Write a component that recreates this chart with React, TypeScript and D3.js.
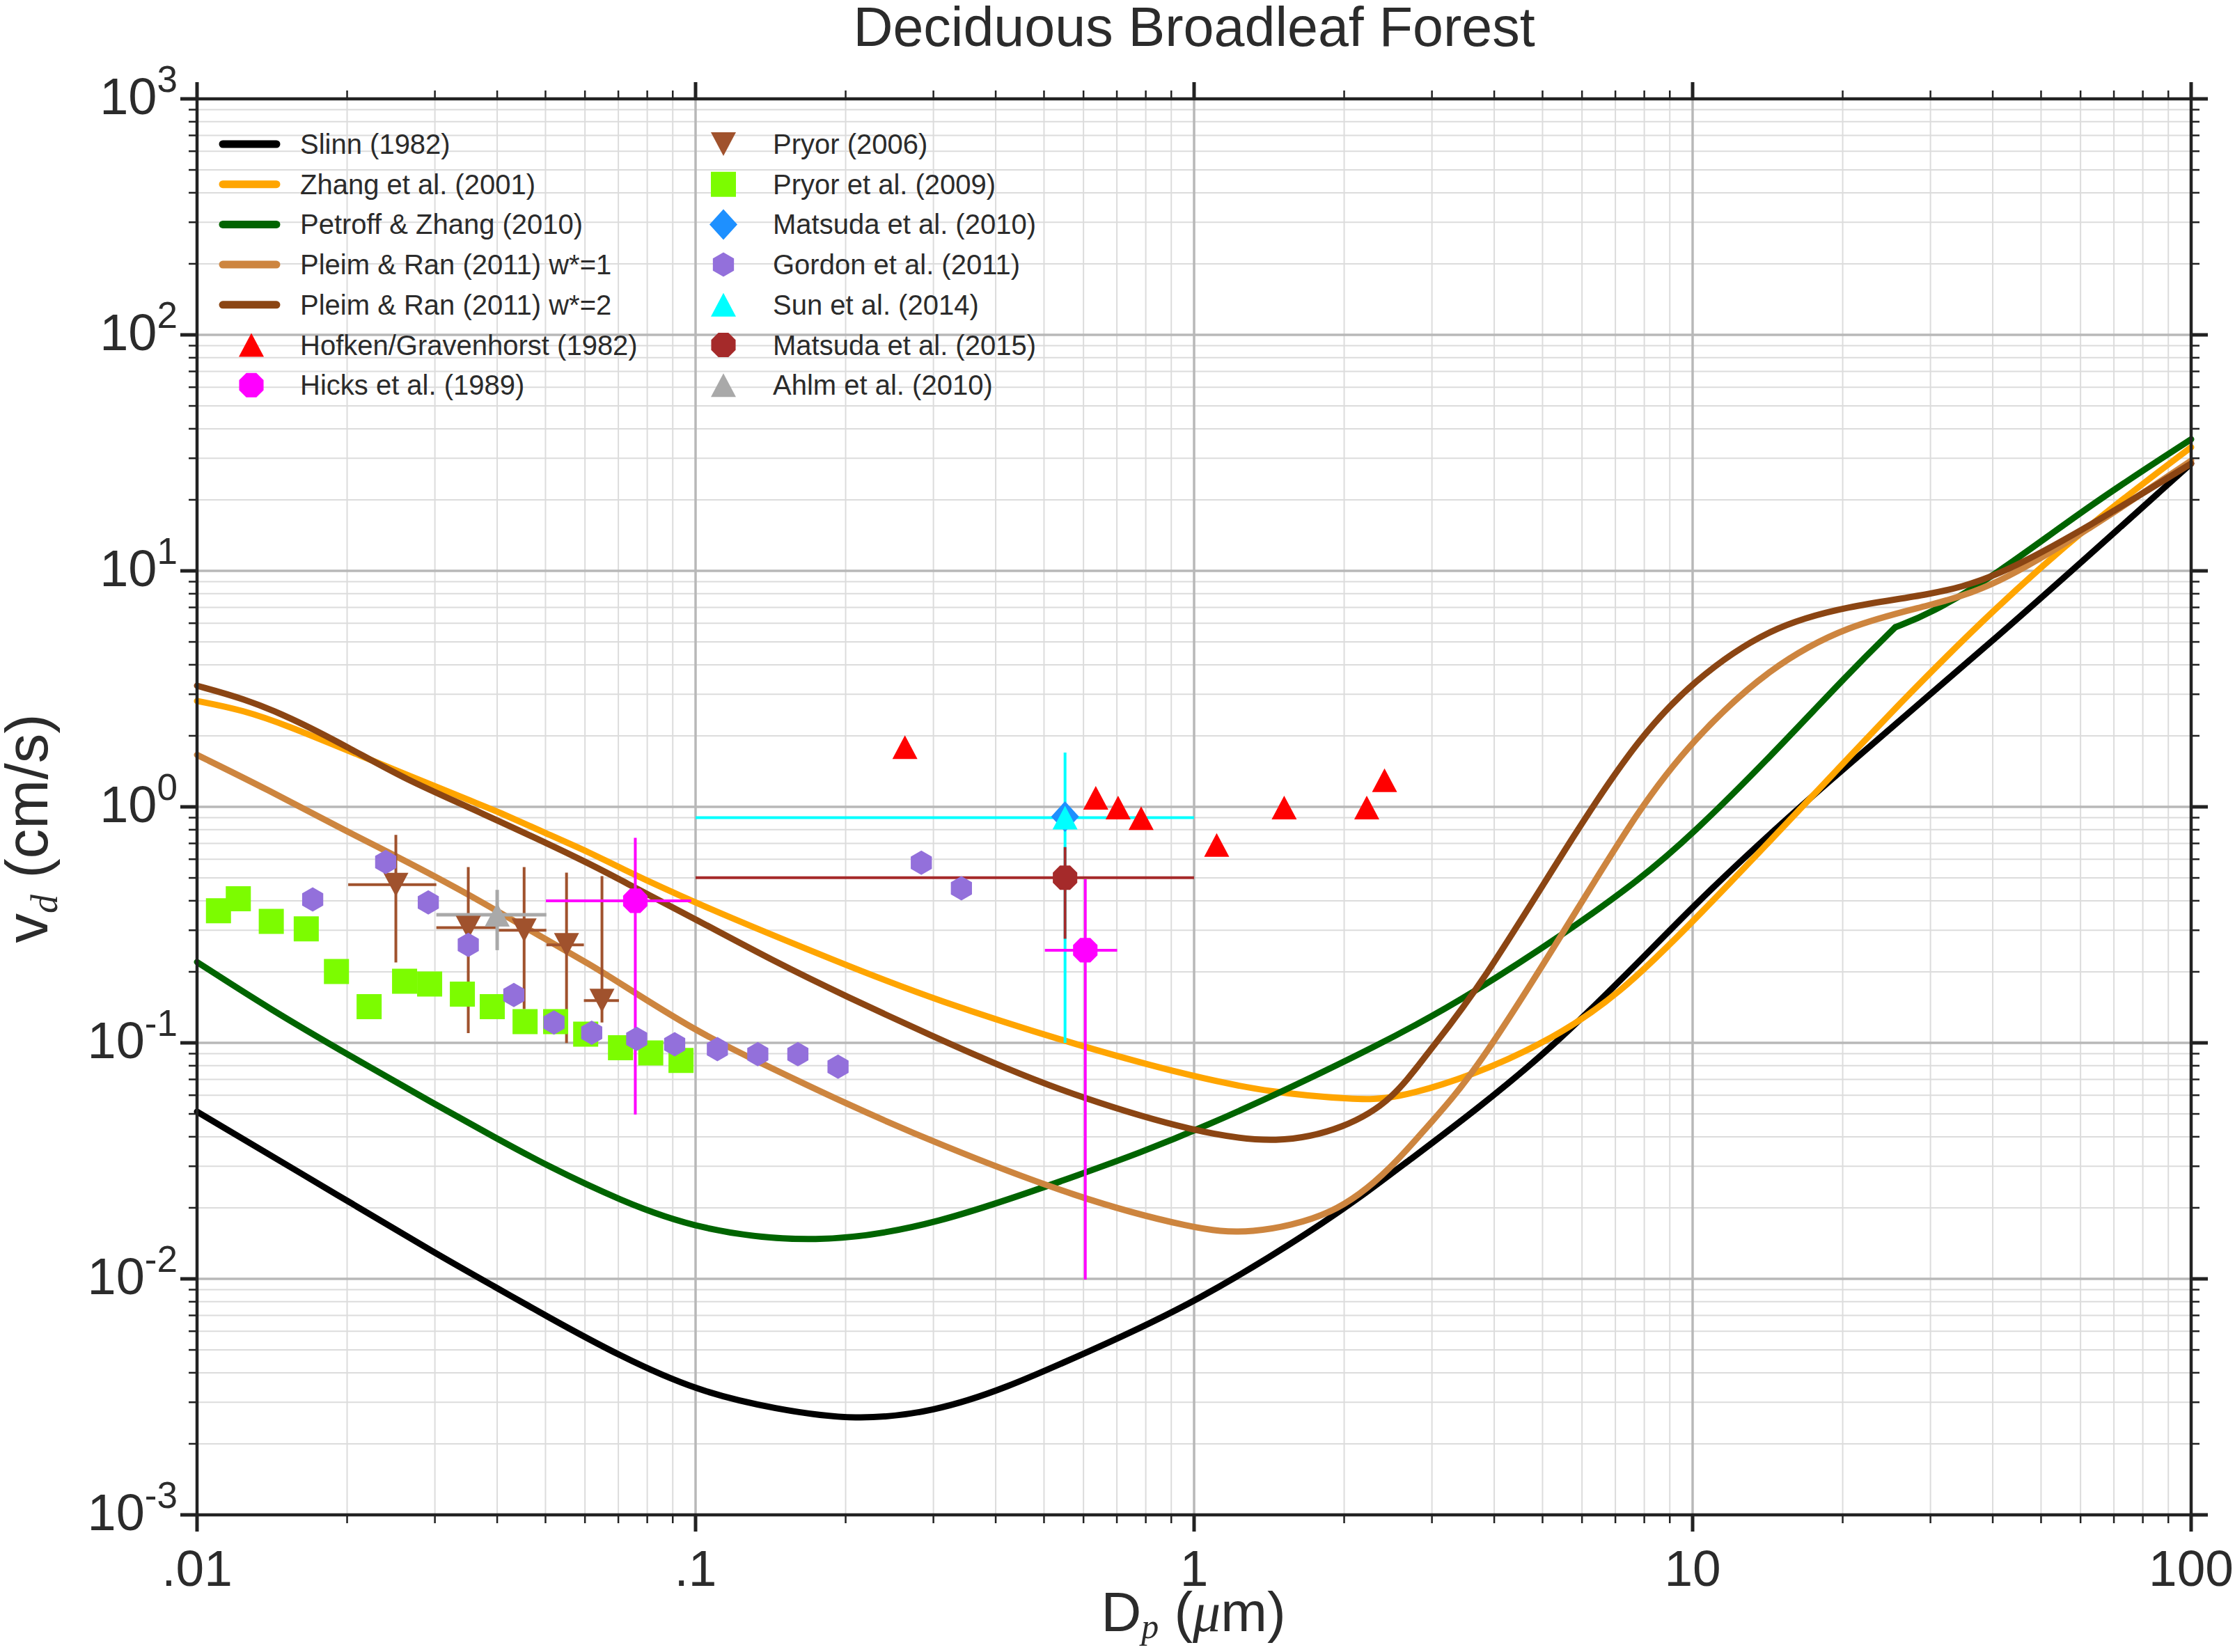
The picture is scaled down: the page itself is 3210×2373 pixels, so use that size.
import * as d3 from "d3";

const WIDTH = 3210;
const HEIGHT = 2373;
const PLOT = { left: 283, top: 142, right: 3147, bottom: 2176 };
const FONT = "'Liberation Sans', Arial, Helvetica, sans-serif";
const MATH = "'Liberation Serif', 'DejaVu Serif', serif";
const INK = "#2b2b2b";

// axis ticks
const xTickValues = [0.01, 0.1, 1, 10, 100];
const xTickLabels = [".01", ".1", "1", "10", "100"];
const yTickValues = [1e-3, 1e-2, 1e-1, 1, 10, 100, 1000];
const yTickExponents = ["-3", "-2", "-1", "0", "1", "2", "3"];

// model curves (Dp in um, vd in cm/s)
const slinnD = [0.01, 0.0201, 0.0302, 0.0398, 0.0503, 0.0705, 0.1013, 0.144, 0.21, 0.302, 0.418, 0.605, 1.0, 1.92, 2.5, 5.27, 10, 18.2, 40.3, 100];
const slinnV = [0.0511, 0.0213, 0.01275, 0.00919, 0.00694, 0.0047, 0.00333, 0.00281, 0.0025, 0.00274, 0.00343, 0.00485, 0.00782, 0.0184, 0.0282, 0.0916, 0.387, 1.228, 5.06, 28.5];

const zhangD = [0.01, 0.01239, 0.01535, 0.0201, 0.0362, 0.0398, 0.0502, 0.0619, 0.0689, 0.0995, 0.2004, 0.3004, 0.588, 1.0, 1.43, 2.1, 2.5, 3.63, 5.27, 7.09, 10, 18.2, 25.8, 40.3, 63, 100];
const zhangV = [2.81, 2.57, 2.19, 1.73, 1.039, 0.962, 0.771, 0.635, 0.565, 0.391, 0.2132, 0.1527, 0.0969, 0.0716, 0.0615, 0.0575, 0.0575, 0.0725, 0.1045, 0.159, 0.323, 1.228, 2.7, 6.93, 16.0, 33.4];

// Petroff & Zhang has a sharp corner at 25.5 um, so it is kept as two pieces
const petroffD = [0.01, 0.01404, 0.0201, 0.0302, 0.0398, 0.0503, 0.0705, 0.1013, 0.174, 0.3004, 0.6, 1.0, 2.5, 3.63, 5.53, 7.83, 10, 14.2, 20.6, 25.5, 29.9, 40.3, 63, 100];
const petroffV = [0.22, 0.1385, 0.089, 0.0545, 0.0395, 0.0302, 0.0215, 0.0161, 0.014, 0.0167, 0.028, 0.0414, 0.1035, 0.163, 0.29, 0.491, 0.767, 1.6, 3.7, 5.77, 6.57, 9.49, 19.2, 36.1];
const petroffKink = 25.5;

const pleim1D = [0.01, 0.01379, 0.0201, 0.02624, 0.0362, 0.0502, 0.0619, 0.0689, 0.0996, 0.1334, 0.2004, 0.301, 0.588, 1.0, 1.28, 1.92, 2.5, 2.94, 3.63, 5.53, 7.83, 10, 14.2, 20.6, 29.9, 40.3, 63, 100];
const pleim1V = [1.66, 1.19, 0.78, 0.59, 0.411, 0.273, 0.213, 0.1846, 0.1127, 0.0832, 0.0552, 0.0378, 0.0218, 0.0163, 0.01535, 0.0184, 0.0297, 0.0445, 0.0725, 0.298, 0.996, 1.92, 3.89, 5.93, 7.12, 8.55, 15.2, 29.3];

const pleim2D = [0.01, 0.01239, 0.01535, 0.0201, 0.02624, 0.0362, 0.0619, 0.0708, 0.0995, 0.144, 0.2004, 0.3004, 0.418, 0.588, 1.0, 1.48, 2.01, 2.5, 2.94, 3.72, 5.96, 7.83, 10, 14.2, 20.6, 29.9, 40.3, 63, 100];
const pleim2V = [3.26, 2.88, 2.4, 1.79, 1.303, 0.969, 0.571, 0.488, 0.336, 0.221, 0.1574, 0.1061, 0.0781, 0.0588, 0.0418, 0.0371, 0.0435, 0.0571, 0.0908, 0.1675, 0.851, 1.97, 3.41, 5.77, 7.12, 7.89, 9.24, 15.6, 28.5];

// measurements
const hofkenD = [0.263, 0.635, 0.704, 0.783, 1.11, 1.516, 2.22, 2.41];
const hofkenV = [1.79, 1.093, 0.993, 0.895, 0.689, 0.993, 0.993, 1.297];

const hicksD = [0.0757, 0.605];
const hicksV = [0.4, 0.247];
const hicksVLo = [0.0497, 0.00993];
const hicksVHi = [0.739, 0.493];
const hicksDLo = [0.0501, 0.502];
const hicksDHi = [0.098, 0.701];

const pryor06D = [0.02505, 0.035, 0.0453, 0.0551, 0.0649];
const pryor06V = [0.468, 0.308, 0.3, 0.26, 0.151];
const pryor06VLo = [0.219, 0.11, 0.139, 0.0998, 0.122];
const pryor06VHi = [0.761, 0.556, 0.556, 0.526, 0.509];
const pryor06DLo = [0.0201, 0.0302, 0.0398, 0.0502, 0.0597];
const pryor06DHi = [0.0302, 0.0398, 0.0502, 0.0597, 0.0702];

const pryor09D = [0.01104, 0.0121, 0.01409, 0.01656, 0.01904, 0.02214, 0.02608, 0.02928, 0.03406, 0.0391, 0.0455, 0.0524, 0.0602, 0.0707, 0.0813, 0.0935];
const pryor09V = [0.363, 0.408, 0.327, 0.304, 0.2007, 0.1424, 0.1823, 0.1776, 0.1609, 0.1424, 0.1231, 0.1231, 0.1089, 0.0954, 0.0906, 0.0843];

const matsuda10D = [0.551];
const matsuda10V = [0.91];

const gordonD = [0.01706, 0.0239, 0.0291, 0.035, 0.0432, 0.052, 0.0619, 0.0762, 0.0908, 0.1106, 0.1333, 0.1604, 0.1931, 0.2837, 0.3414];
const gordonV = [0.405, 0.584, 0.394, 0.26, 0.1596, 0.122, 0.1104, 0.1039, 0.0987, 0.094, 0.0895, 0.0895, 0.0793, 0.58, 0.452];

const sunD = [0.551];
const sunV = [0.9];
const sunVLo = [0.1];
const sunVHi = [1.7];
const sunDLo = [0.1];
const sunDHi = [1.0];

const matsuda15D = [0.551];
const matsuda15V = [0.501];
const matsuda15VLo = [0.276];
const matsuda15VHi = [0.675];
const matsuda15DLo = [0.1];
const matsuda15DHi = [1.0];

const ahlmD = [0.04];
const ahlmV = [0.349];
const ahlmVLo = [0.247];
const ahlmVHi = [0.445];
const ahlmDLo = [0.0302];
const ahlmDHi = [0.0502];

type Shape = "triUp" | "triDown" | "square" | "diamond" | "hex" | "oct";

function polygon(n: number, r: number, offset: number) {
  const pts: string[] = [];
  for (let i = 0; i < n; i++) {
    const a = offset + (i * 2 * Math.PI) / n;
    pts.push(`${(r * Math.sin(a)).toFixed(2)},${(-r * Math.cos(a)).toFixed(2)}`);
  }
  return `M${pts.join("L")}Z`;
}

function shapePath(kind: Shape) {
  switch (kind) {
    case "triUp":
      return "M0,-17L18,17L-18,17Z";
    case "triDown":
      return "M0,17L18,-17L-18,-17Z";
    case "square":
      return "M-18,-18H18V18H-18Z";
    case "diamond":
      return "M0,-22L20,0L0,22L-20,0Z";
    case "hex":
      return polygon(6, 17.5, 0);
    case "oct":
      return polygon(8, 19, Math.PI / 8);
  }
}

const zip = (d: number[], v: number[]) => d.map((dv, i) => [dv, v[i]] as [number, number]);

const curves = [
  { label: "Slinn (1982)", color: "#000000", pieces: [zip(slinnD, slinnV)] },
  { label: "Zhang et al. (2001)", color: "#FFA500", pieces: [zip(zhangD, zhangV)] },
  {
    label: "Petroff & Zhang (2010)",
    color: "#006400",
    pieces: [
      zip(petroffD, petroffV).filter((p) => p[0] <= petroffKink),
      zip(petroffD, petroffV).filter((p) => p[0] >= petroffKink),
    ],
  },
  { label: "Pleim & Ran (2011) w*=1", color: "#CD853F", pieces: [zip(pleim1D, pleim1V)] },
  { label: "Pleim & Ran (2011) w*=2", color: "#8B4513", pieces: [zip(pleim2D, pleim2V)] },
];

const points = [
  { label: "Hofken/Gravenhorst (1982)", color: "#FF0000", shape: "triUp" as Shape, d: hofkenD, v: hofkenV },
  { label: "Hicks et al. (1989)", color: "#FF00FF", shape: "oct" as Shape, d: hicksD, v: hicksV },
  { label: "Pryor (2006)", color: "#A0522D", shape: "triDown" as Shape, d: pryor06D, v: pryor06V },
  { label: "Pryor et al. (2009)", color: "#7CFC00", shape: "square" as Shape, d: pryor09D, v: pryor09V },
  { label: "Matsuda et al. (2010)", color: "#1E90FF", shape: "diamond" as Shape, d: matsuda10D, v: matsuda10V },
  { label: "Gordon et al. (2011)", color: "#9370DB", shape: "hex" as Shape, d: gordonD, v: gordonV },
  { label: "Sun et al. (2014)", color: "#00FFFF", shape: "triUp" as Shape, d: sunD, v: sunV },
  { label: "Matsuda et al. (2015)", color: "#A52A2A", shape: "oct" as Shape, d: matsuda15D, v: matsuda15V },
  { label: "Ahlm et al. (2010)", color: "#A9A9A9", shape: "triUp" as Shape, d: ahlmD, v: ahlmV },
];

const errorBars = [
  { color: "#A0522D", w: 4, d: pryor06D, v: pryor06V, vLo: pryor06VLo, vHi: pryor06VHi, dLo: pryor06DLo, dHi: pryor06DHi },
  { color: "#A9A9A9", w: 5, d: ahlmD, v: ahlmV, vLo: ahlmVLo, vHi: ahlmVHi, dLo: ahlmDLo, dHi: ahlmDHi },
  { color: "#00FFFF", w: 4, d: sunD, v: sunV, vLo: sunVLo, vHi: sunVHi, dLo: sunDLo, dHi: sunDHi },
  { color: "#A52A2A", w: 4, d: matsuda15D, v: matsuda15V, vLo: matsuda15VLo, vHi: matsuda15VHi, dLo: matsuda15DLo, dHi: matsuda15DHi },
  { color: "#FF00FF", w: 4, d: hicksD, v: hicksV, vLo: hicksVLo, vHi: hicksVHi, dLo: hicksDLo, dHi: hicksDHi },
];

const legendCol1 = ["Slinn (1982)", "Zhang et al. (2001)", "Petroff & Zhang (2010)", "Pleim & Ran (2011) w*=1", "Pleim & Ran (2011) w*=2", "Hofken/Gravenhorst (1982)", "Hicks et al. (1989)"];
const legendCol2 = ["Pryor (2006)", "Pryor et al. (2009)", "Matsuda et al. (2010)", "Gordon et al. (2011)", "Sun et al. (2014)", "Matsuda et al. (2015)", "Ahlm et al. (2010)"];

const isDecade = (v: number) => Math.abs(Math.log10(v) - Math.round(Math.log10(v))) < 1e-9;

export default function App() {
  const x = d3.scaleLog().domain([0.01, 100]).range([PLOT.left, PLOT.right]);
  const y = d3.scaleLog().domain([1e-3, 1e3]).range([PLOT.bottom, PLOT.top]);

  const xGrid = x.ticks();
  const yGrid = y.ticks();

  // read-off points are a little noisy, a B-spline keeps the model curves smooth
  const line = d3
    .line<[number, number]>()
    .x((p) => x(p[0]))
    .y((p) => y(p[1]))
    .curve(d3.curveBasis);

  const legendRow = (i: number) => 207 + i * 57.7;

  const renderLegendItem = (label: string, i: number, col: number) => {
    const cy = legendRow(i);
    const curve = curves.find((c) => c.label === label);
    const pt = points.find((p) => p.label === label);
    const mx = col === 0 ? 361 : 1039;
    const tx = col === 0 ? 431 : 1110;
    return (
      <g key={label}>
        {curve && (
          <line x1={320} x2={397} y1={cy} y2={cy} stroke={curve.color} strokeWidth={11} strokeLinecap="round" />
        )}
        {pt && <path d={shapePath(pt.shape)} transform={`translate(${mx},${cy})`} fill={pt.color} />}
        <text x={tx} y={cy + 14} fontSize={40} fill={INK}>
          {label}
        </text>
      </g>
    );
  };

  return (
    <>
      <style>{`body{margin:0}`}</style>
      <svg width={WIDTH} height={HEIGHT} viewBox={`0 0 ${WIDTH} ${HEIGHT}`} style={{ display: "block", background: "#fff" }} fontFamily={FONT}>
        <rect x={0} y={0} width={WIDTH} height={HEIGHT} fill="#fff" />

        {/* grid */}
        <g>
          {xGrid.filter((v) => !isDecade(v)).map((v) => (
            <line key={`gx${v}`} x1={x(v)} x2={x(v)} y1={PLOT.top} y2={PLOT.bottom} stroke="#dcdcdc" strokeWidth={2} />
          ))}
          {yGrid.filter((v) => !isDecade(v)).map((v) => (
            <line key={`gy${v}`} x1={PLOT.left} x2={PLOT.right} y1={y(v)} y2={y(v)} stroke="#dcdcdc" strokeWidth={2} />
          ))}
          {xGrid.filter(isDecade).map((v) => (
            <line key={`Gx${v}`} x1={x(v)} x2={x(v)} y1={PLOT.top} y2={PLOT.bottom} stroke="#b8b8b8" strokeWidth={3.5} />
          ))}
          {yGrid.filter(isDecade).map((v) => (
            <line key={`Gy${v}`} x1={PLOT.left} x2={PLOT.right} y1={y(v)} y2={y(v)} stroke="#b8b8b8" strokeWidth={3.5} />
          ))}
        </g>

        {/* legend */}
        <g>
          {legendCol1.map((l, i) => renderLegendItem(l, i, 0))}
          {legendCol2.map((l, i) => renderLegendItem(l, i, 1))}
        </g>

        {/* model curves */}
        <g fill="none" strokeLinejoin="round" strokeLinecap="round">
          {curves.map((c) =>
            c.pieces.map((piece, k) => (
              <path key={`${c.label}${k}`} d={line(piece) || ""} stroke={c.color} strokeWidth={9} />
            ))
          )}
        </g>

        {/* error bars */}
        <g>
          {errorBars.map((e, k) =>
            e.d.map((dv, i) => (
              <g key={`e${k}-${i}`} stroke={e.color} strokeWidth={e.w}>
                <line x1={x(dv)} x2={x(dv)} y1={y(e.vLo[i])} y2={y(e.vHi[i])} />
                <line x1={x(e.dLo[i])} x2={x(e.dHi[i])} y1={y(e.v[i])} y2={y(e.v[i])} />
              </g>
            ))
          )}
        </g>

        {/* measurements */}
        <g>
          {points.map((p) =>
            p.d.map((dv, i) => (
              <path key={`${p.label}${i}`} d={shapePath(p.shape)} transform={`translate(${x(dv)},${y(p.v[i])})`} fill={p.color} />
            ))
          )}
        </g>

        {/* frame and ticks */}
        <rect x={PLOT.left} y={PLOT.top} width={PLOT.right - PLOT.left} height={PLOT.bottom - PLOT.top} fill="none" stroke="#222" strokeWidth={4.5} />
        <g stroke="#222">
          {xGrid.map((v) => {
            const big = isDecade(v);
            const len = big ? 24 : 12;
            return (
              <g key={`tx${v}`} strokeWidth={big ? 5 : 2.5}>
                <line x1={x(v)} x2={x(v)} y1={PLOT.bottom} y2={PLOT.bottom + len} />
                <line x1={x(v)} x2={x(v)} y1={PLOT.top} y2={PLOT.top - len} />
              </g>
            );
          })}
          {yGrid.map((v) => {
            const big = isDecade(v);
            const len = big ? 24 : 12;
            return (
              <g key={`ty${v}`} strokeWidth={big ? 5 : 2.5}>
                <line x1={PLOT.left} x2={PLOT.left - len} y1={y(v)} y2={y(v)} />
                <line x1={PLOT.right} x2={PLOT.right + len} y1={y(v)} y2={y(v)} />
              </g>
            );
          })}
        </g>

        {/* tick labels */}
        <g fill={INK}>
          {xTickValues.map((v, i) => (
            <text key={`xl${v}`} x={x(v)} y={2278} fontSize={73} textAnchor="middle">
              {xTickLabels[i]}
            </text>
          ))}
          {yTickValues.map((v, i) => (
            <text key={`yl${v}`} x={255} y={y(v) + 22} fontSize={74} textAnchor="end">
              10
              <tspan dy={-32} fontSize={53}>
                {yTickExponents[i]}
              </tspan>
            </text>
          ))}
        </g>

        {/* titles */}
        <text x={1715} y={66} fontSize={79} textAnchor="middle" fill={INK}>
          Deciduous Broadleaf Forest
        </text>
        <text x={1714} y={2343} fontSize={80} textAnchor="middle" fill={INK}>
          D
          <tspan fontFamily={MATH} fontStyle="italic" fontSize={50} dy={10}>
            p
          </tspan>
          <tspan dy={-10}>{"  ("}</tspan>
          <tspan fontFamily={MATH} fontStyle="italic">
            μ
          </tspan>
          m)
        </text>
        <text transform="translate(68,1190) rotate(-90)" fontSize={85} textAnchor="middle" fill={INK}>
          v
          <tspan fontFamily={MATH} fontStyle="italic" fontSize={54} dy={14}>
            d
          </tspan>
          <tspan dy={-14}>{"  (cm/s)"}</tspan>
        </text>
      </svg>
    </>
  );
}
